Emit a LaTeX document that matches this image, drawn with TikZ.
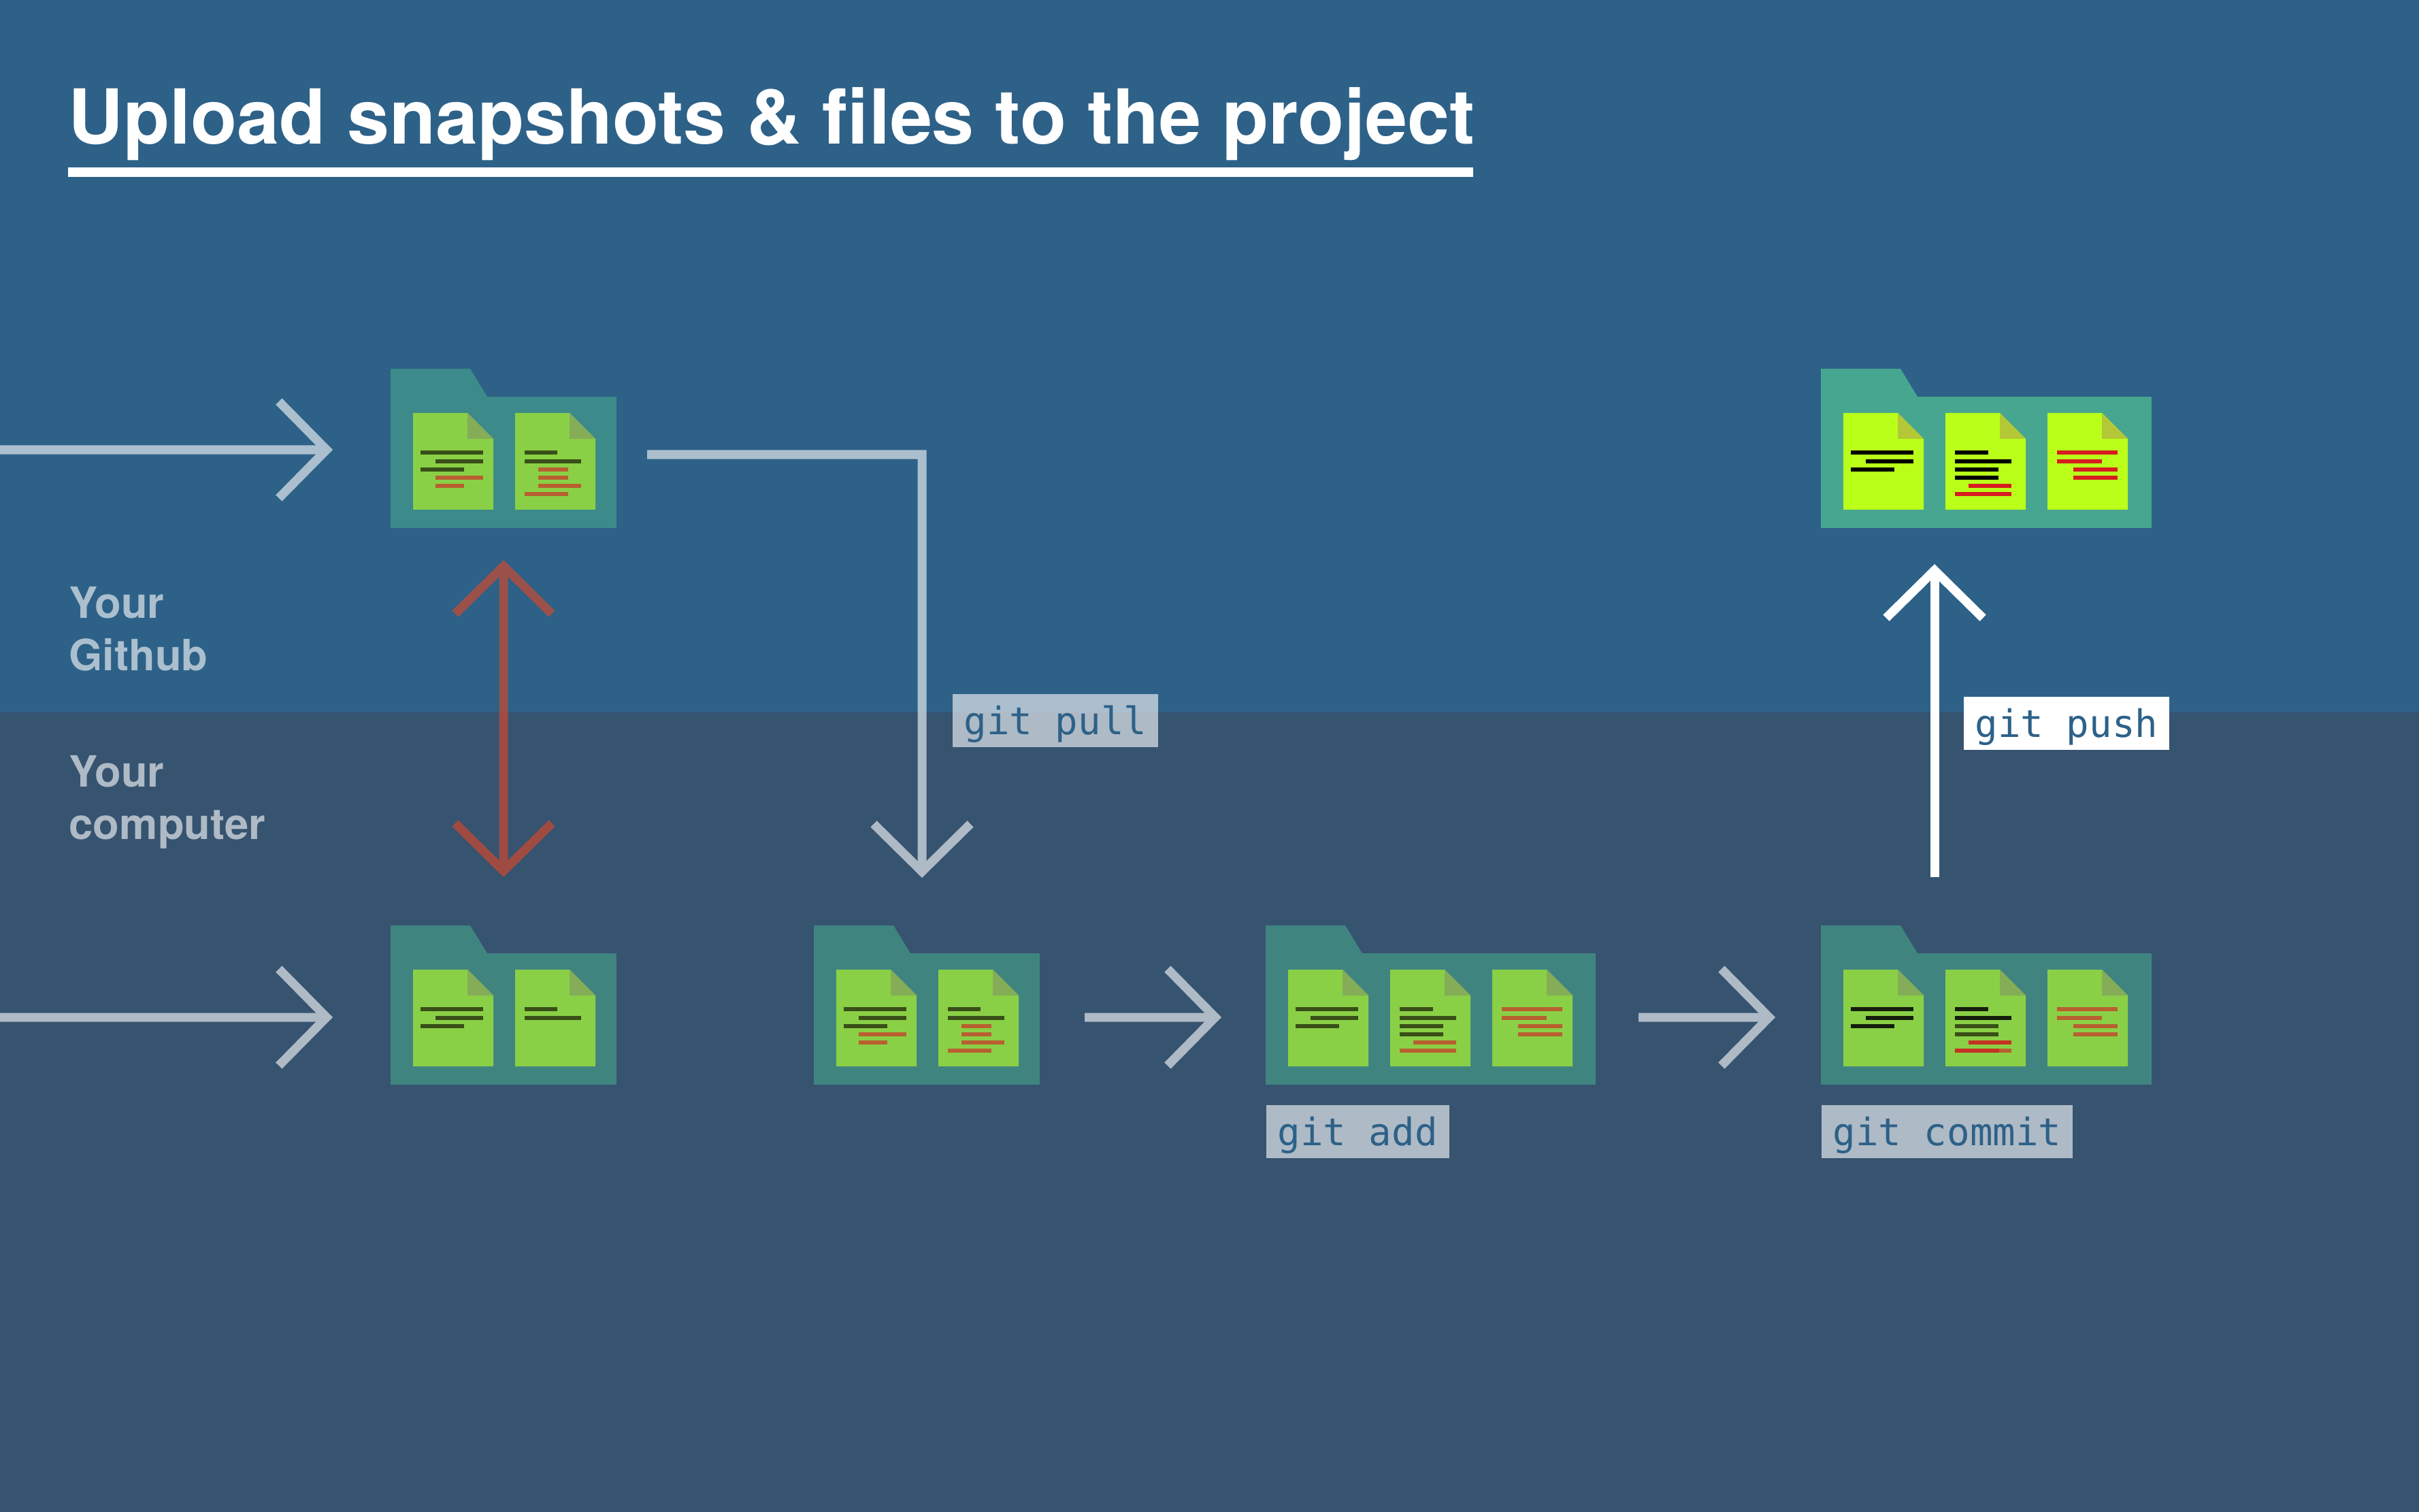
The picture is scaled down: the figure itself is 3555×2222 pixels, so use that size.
\documentclass[tikz,border=0pt]{standalone}
\usepackage{fontspec}
\setmainfont{TeX Gyre Heros}
\setmonofont{DejaVu Sans Mono}
\usetikzlibrary{arrows.meta}

\definecolor{hubblue}{RGB}{45,97,136}
\definecolor{homeblue}{RGB}{54,83,112}
\definecolor{folderhub}{RGB}{60,138,137}
\definecolor{folderhome}{RGB}{64,132,128}
\definecolor{folderlit}{RGB}{71,166,143}
\definecolor{paperdim}{RGB}{138,208,70}
\definecolor{foldim}{RGB}{133,173,88}
\definecolor{paperlit}{RGB}{185,255,26}
\definecolor{follit}{RGB}{180,200,55}
\definecolor{inkdim}{RGB}{56,79,24}
\definecolor{reddim}{RGB}{184,96,48}
\definecolor{inkcommit}{RGB}{20,30,10}
\definecolor{redcommit}{RGB}{196,50,34}
\definecolor{redlit}{RGB}{216,28,32}
\definecolor{syncred}{RGB}{231,70,34}

\tikzset{
  flowline/.style={line width=0.13cm, -{Straight Barb[length=0.70cm, width=1.42cm, line width=0.13cm]}},
  syncline/.style={line width=0.13cm, {Straight Barb[length=0.70cm, width=1.42cm, line width=0.13cm]}-{Straight Barb[length=0.70cm, width=1.42cm, line width=0.13cm]}},
  folderbody/.style={anchor=south west, inner sep=0pt, outer sep=0pt, minimum height=1.93cm},
  gitlabel/.style={anchor=base west, inner xsep=0.17cm, inner ysep=0pt, text height=0.59cm, text depth=0.19cm,
    text=hubblue, font=\ttfamily\fontsize{15.85}{18}\selectfont},
  sidelabel/.style={anchor=base west, inner sep=0pt, align=left, text=white, text opacity=0.6,
    font=\bfseries\fontsize{18}{21.8}\selectfont},
}

% folder: name, x, y, width, colour
\newcommand{\folderbox}[5]{
  \node[folderbody, fill=#5, minimum width=#4*0.01cm] (#1) at (#2,#3+234) {};
  \fill[#5] (#2,#3) -- (#2+117,#3) -- (#2+142,#3+41) -- (#2,#3+41) -- cycle;
}
% sheet: x, y, paper, fold, lines as from/to/row/colour
\newcommand{\docsheet}[5]{
  \fill[#3] (#1,#2) -- (#1+80,#2) -- (#1+118,#2+38) -- (#1+118,#2+142) -- (#1,#2+142) -- cycle;
  \fill[#4] (#1+80,#2) -- (#1+118,#2+38) -- (#1+80,#2+38) -- cycle;
  \foreach \a/\b/\r/\c in {#5}
    \fill[\c] (#1+\a,#2+\r-2.8) rectangle (#1+\b,#2+\r+2.8);
}

\begin{document}
\begin{tikzpicture}[x=0.01cm, y=-0.01cm]
  \useasboundingbox (0,0) rectangle (3555,2222);
  \fill[hubblue] (0,0) rectangle (3555,1047);
  \fill[homeblue] (0,1047) rectangle (3555,2222);

  % title
  \node[anchor=base west, inner sep=0pt, text=white, font=\bfseries\fontsize{31.7}{37}\selectfont] (title) at (100,212) {Upload snapshots \& files to the project};
  \fill[white] (100,246) rectangle (2165,260);

  \node[sidelabel] (github) at (101,985) {Your\\Github};
  \node[sidelabel] (computer) at (101,1233) {Your\\computer};

  % top row
  \folderbox{hubold}{574}{542}{332}{folderhub}
  \docsheet{607}{607}{paperdim}{foldim}{11/103/58/inkdim,33/103/71/inkdim,11/75/83/inkdim,33/103/95/reddim,33/75/107/reddim}
  \docsheet{757}{607}{paperdim}{foldim}{14/62/58/inkdim,14/97/71/inkdim,34/78/83/reddim,34/78/95/reddim,34/97/107/reddim,14/78/119/reddim}

  \folderbox{hubnew}{2676}{542}{486}{folderlit}
  \docsheet{2709}{607}{paperlit}{follit}{11/103/58/black,33/103/71/black,11/75/83/black}
  \docsheet{2859}{607}{paperlit}{follit}{14/63/58/black,14/97/71/black,14/78/83/black,14/78/95/black,34/97/107/redlit,14/97/119/redlit}
  \docsheet{3009}{607}{paperlit}{follit}{14/103/58/redlit,14/80/71/redlit,38/103/83/redlit,38/103/95/redlit}

  % bottom row
  \folderbox{homeold}{574}{1360}{332}{folderhome}
  \docsheet{607}{1425}{paperdim}{foldim}{11/103/58/inkdim,33/103/71/inkdim,11/75/83/inkdim}
  \docsheet{757}{1425}{paperdim}{foldim}{14/62/58/inkdim,14/97/71/inkdim}

  \folderbox{homepull}{1196}{1360}{332}{folderhome}
  \docsheet{1229}{1425}{paperdim}{foldim}{11/103/58/inkdim,33/103/71/inkdim,11/75/83/inkdim,33/103/95/reddim,33/75/107/reddim}
  \docsheet{1379}{1425}{paperdim}{foldim}{14/62/58/inkdim,14/97/71/inkdim,34/78/83/reddim,34/78/95/reddim,34/97/107/reddim,14/78/119/reddim}

  \folderbox{homeadd}{1860}{1360}{485}{folderhome}
  \docsheet{1893}{1425}{paperdim}{foldim}{11/103/58/inkdim,33/103/71/inkdim,11/75/83/inkdim}
  \docsheet{2043}{1425}{paperdim}{foldim}{14/63/58/inkdim,14/97/71/inkdim,14/78/83/inkdim,14/78/95/inkdim,34/97/107/reddim,14/97/119/reddim}
  \docsheet{2193}{1425}{paperdim}{foldim}{14/103/58/reddim,14/80/71/reddim,38/103/83/reddim,38/103/95/reddim}

  \folderbox{homecommit}{2676}{1360}{486}{folderhome}
  \docsheet{2709}{1425}{paperdim}{foldim}{11/103/58/inkcommit,33/103/71/inkcommit,11/75/83/inkcommit}
  \docsheet{2859}{1425}{paperdim}{foldim}{14/63/58/inkcommit,14/97/71/inkcommit,14/78/83/inkdim,14/78/95/inkdim,34/97/107/redcommit,14/97/119/reddim,14/79/119/redcommit}
  \docsheet{3009}{1425}{paperdim}{foldim}{14/103/58/reddim,14/80/71/reddim,38/103/83/reddim,38/103/95/reddim}

  % connector ends
  \coordinate (hubin) at (0,661);
  \coordinate (hubtip) at (489,661);
  \coordinate (homein) at (0,1495);
  \coordinate (hometip) at (489,1495);
  \coordinate (syncup) at (740,823);
  \coordinate (syncdown) at (740,1289);
  \coordinate (pullfrom) at (951,668);
  \coordinate (pulltip) at (1355,1290);
  \coordinate (addfrom) at (1594,1495);
  \coordinate (addtip) at (1795,1495);
  \coordinate (commitfrom) at (2408,1495);
  \coordinate (committip) at (2609,1495);
  \coordinate (pushfrom) at (2843,1289);
  \coordinate (pushtip) at (2843,829);

  \begin{scope}[transparency group, opacity=0.6]
    \draw[flowline, white] (hubin) -- (hubtip);
    \draw[flowline, white] (homein) -- (hometip);
    \draw[flowline, white] (pullfrom) -| (pulltip);
    \draw[flowline, white] (addfrom) -- (addtip);
    \draw[flowline, white] (commitfrom) -- (committip);
  \end{scope}
  \begin{scope}[transparency group, opacity=0.6]
    \draw[syncline, syncred] (syncup) -- (syncdown);
  \end{scope}
  \draw[flowline, white] (pushfrom) -- (pushtip);

  % git commands
  \node[gitlabel, fill=white, fill opacity=0.6, text opacity=1] (gitpull) at (1399,1079) {git pull};
  \node[gitlabel, fill=white] (gitpush) at (2885,1083) {git push};
  \node[gitlabel, fill=white, fill opacity=0.6, text opacity=1] (gitadd) at (1860,1683) {git add};
  \node[gitlabel, fill=white, fill opacity=0.6, text opacity=1] (gitcommit) at (2676,1683) {git commit};
\end{tikzpicture}
\end{document}
